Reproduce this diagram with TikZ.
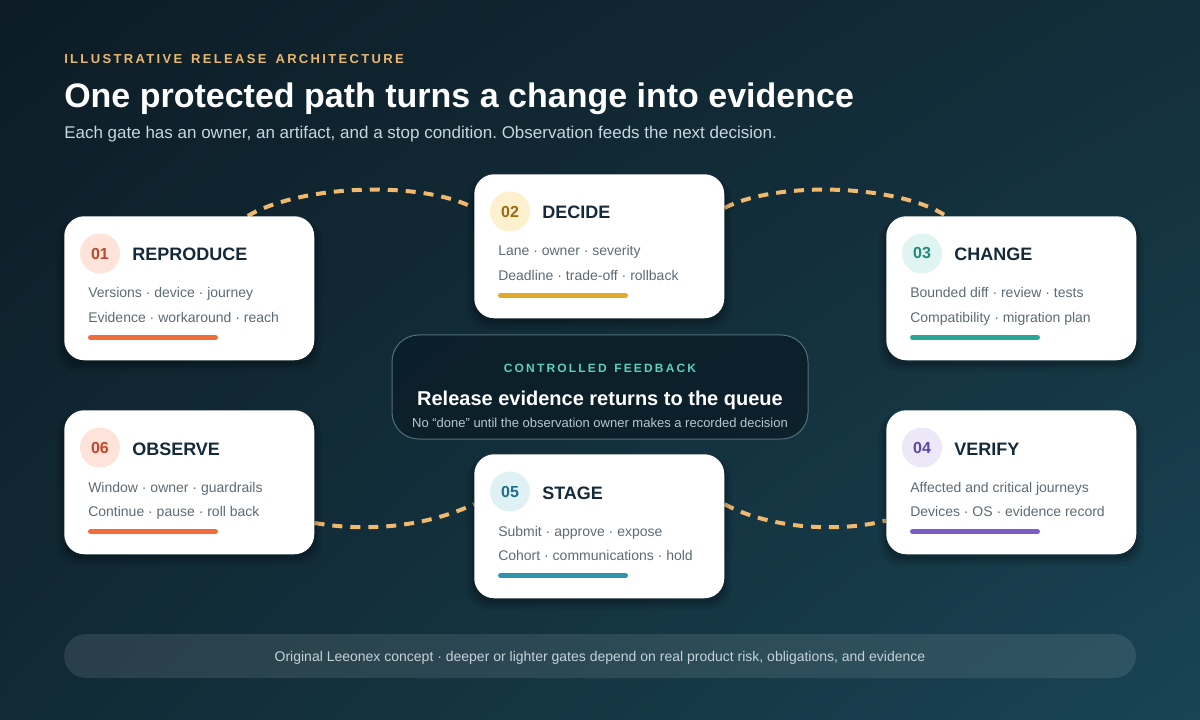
\documentclass[tikz,border=0pt]{standalone}
\usepackage{fontspec}
\setmainfont{Liberation Sans}
\newfontfamily\spacedfont[LetterSpace=18]{Liberation Sans}
\usetikzlibrary{calc,shadows,shadings}
\pgfdeclarelayer{bgl}
\pgfdeclarelayer{mid}
\pgfsetlayers{bgl,mid,main}
\frenchspacing
\definecolor{bgTL}{RGB}{13,28,38}
\definecolor{bgTR}{RGB}{19,46,58}
\definecolor{bgBL}{RGB}{17,42,53}
\definecolor{bgBR}{RGB}{25,68,84}
\definecolor{eyebrow}{RGB}{233,184,112}
\definecolor{subtxt}{RGB}{200,214,221}
\definecolor{cardink}{RGB}{20,42,58}
\definecolor{lineink}{RGB}{93,107,115}
\definecolor{dashc}{RGB}{240,185,110}
\definecolor{panelfill}{RGB}{11,30,40}
\definecolor{panelline}{RGB}{80,112,122}
\definecolor{teal}{RGB}{92,207,190}
\definecolor{panelsub}{RGB}{185,199,206}
\definecolor{foottxt}{RGB}{197,210,216}
% per-gate colours
\definecolor{circ01}{RGB}{253,227,218}\definecolor{num01}{RGB}{192,70,42}\definecolor{bar01}{RGB}{242,107,58}
\definecolor{circ02}{RGB}{253,240,207}\definecolor{num02}{RGB}{154,106,16}\definecolor{bar02}{RGB}{224,169,46}
\definecolor{circ03}{RGB}{224,245,241}\definecolor{num03}{RGB}{31,138,120}\definecolor{bar03}{RGB}{42,165,151}
\definecolor{circ04}{RGB}{236,232,248}\definecolor{num04}{RGB}{91,70,168}\definecolor{bar04}{RGB}{122,92,198}
\definecolor{circ05}{RGB}{224,241,246}\definecolor{num05}{RGB}{31,111,138}\definecolor{bar05}{RGB}{46,149,173}
\definecolor{circ06}{RGB}{253,227,218}\definecolor{num06}{RGB}{192,70,42}\definecolor{bar06}{RGB}{242,107,58}
\tikzset{
  card/.style={fill=white, rounded corners=15pt, minimum width=187.5pt, minimum height=108pt, inner sep=0pt,
    general shadow={fill=black, opacity=.07, shadow yshift=-5pt, shadow scale=1.06},
    general shadow={fill=black, opacity=.09, shadow yshift=-4pt, shadow scale=1.035},
    general shadow={fill=black, opacity=.12, shadow yshift=-3pt, shadow scale=1.015}},
  numdisc/.style={circle, minimum size=30pt, inner sep=0pt, font=\bfseries\fontsize{12pt}{14pt}\selectfont},
  cardtitle/.style={inner sep=0pt, text=cardink, font=\bfseries\fontsize{13.5pt}{16pt}\selectfont},
  cardline/.style={inner sep=0pt, text=lineink, font=\fontsize{10.5pt}{12pt}\selectfont},
  accentbar/.style={line width=3.75pt, line cap=round},
  connector/.style={draw=dashc, line width=3pt, dash pattern=on 7.5pt off 6pt},
  plain/.style={inner sep=0pt}
}
\newcommand{\gatecard}[8]{%
  \node[card, anchor=north west] (#1) at (#2,#3) {};
  \node[numdisc, fill=circ#8, text=num#8] (#1n) at ($(#1.north west)+(36,37.5)$) {#4};
  \node[cardtitle, anchor=base west] (#1t) at ($(#1.north west)+(68,45)$) {#5};
  \node[cardline, anchor=base west] (#1a) at ($(#1.north west)+(24,82)$) {#6};
  \node[cardline, anchor=base west] (#1b) at ($(#1.north west)+(24,106.5)$) {#7};
  \coordinate (#1s) at ($(#1.north west)+(26.5,121.5)$);
  \coordinate (#1e) at ($(#1.north west)+(151.5,121.5)$);
  \draw[accentbar, draw=bar#8] (#1s) -- (#1e);
}
\begin{document}
\begin{tikzpicture}[x=0.75pt, y=-0.75pt]
\useasboundingbox (0,0) rectangle (1200,720);
\begin{pgfonlayer}{bgl}
\shade[upper left=bgTL, upper right=bgTR, lower left=bgBL, lower right=bgBR] (0,0) rectangle (1200,720);
\end{pgfonlayer}

% heading
\node[plain, anchor=base west, text=eyebrow, font=\spacedfont\bfseries\fontsize{9.75pt}{12pt}\selectfont] (eyebrow) at (64,64) {ILLUSTRATIVE\ \hspace{2.25pt}RELEASE\ \hspace{2.25pt}ARCHITECTURE};
\node[plain, anchor=base west, text=white, font=\bfseries\fontsize{25.5pt}{30pt}\selectfont] (title) at (64,108) {One protected path turns a change into evidence};
\node[plain, anchor=base west, text=subtxt, font=\fontsize{12.75pt}{15pt}\selectfont] (subtitle) at (64,139) {Each gate has an owner, an artifact, and a stop condition. Observation feeds the next decision.};

% gates
\gatecard{c1}{64}{216}{01}{REPRODUCE}{Versions · device · journey}{Evidence · workaround · reach}{01}
\gatecard{c2}{474}{174}{02}{DECIDE}{Lane · owner · severity}{Deadline · trade-off · rollback}{02}
\gatecard{c3}{886}{216}{03}{CHANGE}{Bounded diff · review · tests}{Compatibility · migration plan}{03}
\gatecard{c4}{886}{410}{04}{VERIFY}{Affected and critical journeys}{Devices · OS · evidence record}{04}
\gatecard{c5}{474}{454}{05}{STAGE}{Submit · approve · expose}{Cohort · communications · hold}{05}
\gatecard{c6}{64}{410}{06}{OBSERVE}{Window · owner · guardrails}{Continue · pause · roll back}{06}

% connectors
\begin{pgfonlayer}{mid}
\draw[connector] (c1.51) .. controls +(52,-31) and +(-54,-28) .. (c2.163);
\draw[connector] (c2.17) .. controls +(54,-28) and +(-47,-31) .. (c3.132);
\draw[connector] (c6.-18) .. controls +(46,8) and +(-54,25) .. (c5.170);
\draw[connector] (c5.10) .. controls +(46,25) and +(-46,12) .. (c4.-163);
\end{pgfonlayer}

% centre panel
\node[draw=panelline, line width=0.75pt, fill=panelfill, fill opacity=.85, rounded corners=20pt,
      minimum width=312pt, minimum height=78pt, inner sep=0pt] (panel) at (600,387) {};
\node[plain, anchor=base, text=teal, font=\spacedfont\bfseries\fontsize{9pt}{11pt}\selectfont] (pkicker) at (600,373) {CONTROLLED\ \hspace{1.6pt}FEEDBACK};
\node[plain, anchor=base, text=white, font=\bfseries\fontsize{15pt}{18pt}\selectfont] (phead) at (600,405) {Release evidence returns to the queue};
\node[plain, anchor=base, text=panelsub, font=\fontsize{9.75pt}{12pt}\selectfont] (psub) at (600,427) {No “done” until the observation owner makes a recorded decision};

% footer
\node[fill=white, fill opacity=.1, rounded corners=16.5pt, minimum width=804pt, minimum height=33pt, inner sep=0pt] (footer) at (600,656) {};
\node[plain, anchor=base, text=foottxt, font=\fontsize{10.5pt}{12pt}\selectfont] (foottext) at (600,661) {Original Leeonex concept · deeper or lighter gates depend on real product risk, obligations, and evidence};
\end{tikzpicture}
\end{document}
